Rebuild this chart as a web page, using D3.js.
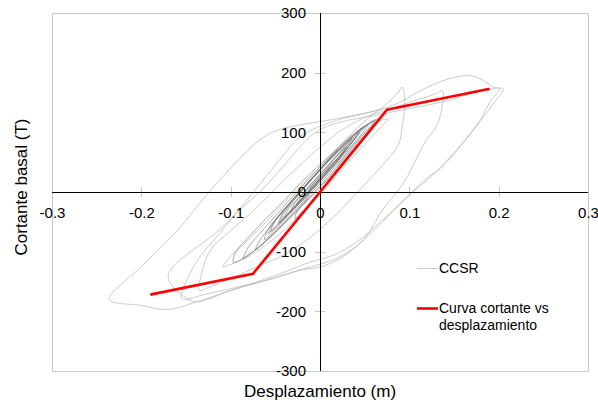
<!DOCTYPE html>
<html>
<head>
<meta charset="utf-8">
<script src="https://cdn.jsdelivr.net/npm/d3@7"></script>
<style>
  body { margin: 0; background: #fff; }
  svg { display: block; font-family: "Liberation Sans", Arial, sans-serif; }
</style>
</head>
<body>
<svg width="598" height="402"></svg>
<script>
// axis ticks
var xTicks = [-0.3, -0.2, -0.1, 0, 0.1, 0.2, 0.3];
var yTicks = [-300, -200, -100, 0, 100, 200, 300];

// red bilinear curve (displacement m, shear T)
var curveDisp = [-0.19, -0.075, 0, 0.075, 0.19];
var curveShear = [-172, -137, 0, 138, 173];

// CCSR hysteresis, read cycle by cycle off the picture
var smallCycles = [
  [[0,0],[0.012,22],[0.024,42],[0.028,50],[0.02,35],[0.005,8],[-0.01,-18],[-0.022,-36],[-0.028,-45],[-0.025,-30],[-0.015,-12],[-0.01,10]],
  [[-0.01,10],[0.01,42],[0.025,65],[0.028,70],[0.02,52],[0,18],[-0.02,-15],[-0.03,-30],[-0.033,-34],[-0.028,-18],[-0.015,5],[0,30]],
  [[0,30],[0.02,62],[0.035,85],[0.04,92],[0.032,75],[0.012,40],[-0.01,4],[-0.03,-28],[-0.042,-48],[-0.045,-52],[-0.04,-35],[-0.026,-8],[-0.01,20],[0.005,45]],
  [[0.005,45],[0.025,75],[0.04,98],[0.046,106],[0.038,88],[0.018,52],[-0.005,14],[-0.028,-24],[-0.048,-56],[-0.055,-66],[-0.05,-48],[-0.035,-20],[-0.015,14],[0.005,46]],
  [[0.005,46],[0.03,84],[0.048,108],[0.054,114],[0.046,96],[0.025,60],[0,18],[-0.025,-22],[-0.05,-62],[-0.062,-80],[-0.058,-62],[-0.042,-32],[-0.02,4],[0,38]],
  [[0,38],[0.025,78],[0.045,104],[0.058,118],[0.06,119],[0.052,102],[0.03,65],[0.005,22],[-0.02,-18],[-0.045,-58],[-0.065,-88],[-0.072,-96],[-0.066,-78],[-0.05,-48],[-0.03,-14],[-0.01,20],[0.01,54]],
  [[0.01,54],[0.03,84],[0.05,110],[0.062,121],[0.056,106],[0.035,70],[0.01,26],[-0.015,-14],[-0.04,-52],[-0.065,-88],[-0.082,-108],[-0.086,-112],[-0.08,-92],[-0.064,-64],[-0.045,-32],[-0.026,0],[-0.005,34],[0.015,64]],
  [[0.015,64],[0.035,92],[0.055,114],[0.066,123],[0.06,110],[0.04,76],[0.015,32],[-0.01,-8],[-0.035,-46],[-0.06,-82],[-0.085,-110],[-0.097,-118],[-0.094,-100],[-0.08,-76],[-0.06,-44],[-0.04,-14],[-0.02,18],[0,46],[0.02,74]],
  [[0.02,74],[0.038,98],[0.05,110],[0.042,94],[0.02,56],[-0.005,14],[-0.03,-26],[-0.05,-58],[-0.058,-70],[-0.052,-52],[-0.038,-26],[-0.02,4],[0,36],[0.015,60]],
  [[0.015,60],[0.03,82],[0.036,90],[0.028,72],[0.008,36],[-0.015,-4],[-0.035,-36],[-0.04,-44],[-0.035,-28],[-0.02,-4],[0,30],[0.012,50]],
  [[0.012,50],[0.025,70],[0.03,76],[0.022,60],[0,24],[-0.02,-10],[-0.026,-20],[-0.02,-6],[-0.005,18],[0.01,44]],
  [[0.01,44],[0.03,80],[0.044,100],[0.036,84],[0.016,46],[-0.008,6],[-0.03,-28],[-0.046,-52],[-0.042,-36],[-0.03,-12],[-0.012,18],[0.02,72]]
];

var largeCycles = [
  [[0.02,45],[0.045,92],[0.065,118],[0.076,122],[0.07,112],[0.05,80],[0.025,38],[0,-5],[-0.03,-50],[-0.06,-88],[-0.085,-112],[-0.105,-124],[-0.109,-126],[-0.1,-108],[-0.08,-80],[-0.055,-42],[-0.03,-2],[0,42]],
  [[0,42],[0.03,90],[0.055,125],[0.075,148],[0.088,168],[0.092,176],[0.095,150],[0.092,110],[0.088,80],[0.07,45],[0.045,5],[0.02,-35],[-0.01,-75],[-0.04,-105],[-0.07,-125],[-0.1,-145],[-0.125,-160],[-0.135,-165],[-0.133,-140],[-0.123,-98],[-0.1,-65],[-0.07,-25],[-0.04,20],[-0.01,62],[0.02,100]],
  [[0.02,100],[0.05,125],[0.08,140],[0.11,155],[0.13,165],[0.137,170],[0.136,137],[0.13,109],[0.119,87],[0.093,14],[0.07,-30],[0.048,-81],[0.02,-110],[-0.02,-130],[-0.06,-148],[-0.1,-162],[-0.13,-172],[-0.15,-180],[-0.155,-178],[-0.15,-150],[-0.135,-110],[-0.11,-65],[-0.082,-14],[-0.05,45],[-0.023,92],[0,110],[0.03,125]],
  [[0.03,125],[0.06,135],[0.089,150],[0.11,168],[0.13,182],[0.15,192],[0.168,195],[0.179,190],[0.194,176],[0.201,173],[0.19,150],[0.179,120],[0.156,75],[0.135,40],[0.117,20],[0.09,-20],[0.06,-65],[0.04,-92],[0.025,-109],[0,-126],[-0.023,-131],[-0.06,-148],[-0.1,-165],[-0.138,-184],[-0.154,-173],[-0.17,-140],[-0.113,-64],[-0.09,-30],[-0.064,5],[-0.04,45],[-0.019,81],[0,105],[0.03,120]],
  [[0.03,120],[0.06,128],[0.1,140],[0.14,152],[0.17,165],[0.19,172],[0.205,173],[0.195,150],[0.175,110],[0.15,65],[0.12,20],[0.1,-5],[0.07,-47],[0.04,-85],[0.015,-106],[-0.012,-118],[-0.05,-140],[-0.1,-165],[-0.14,-185],[-0.172,-197],[-0.2,-190],[-0.236,-180],[-0.2,-125],[-0.16,-65],[-0.127,-5],[-0.1,40],[-0.075,78],[-0.06,95],[-0.045,105],[-0.02,113],[0,118],[0.03,126],[0.07,139]]
];

var svg = d3.select("svg");
var margin = {left: 52, right: 10, top: 13, bottom: 31};
var width = 598 - margin.left - margin.right,
    height = 402 - margin.top - margin.bottom;

var x = d3.scaleLinear().domain([-0.3, 0.3]).range([margin.left, margin.left + width]);
var y = d3.scaleLinear().domain([-300, 300]).range([margin.top + height, margin.top]);

// plot frame
svg.append("rect")
    .attr("x", x(-0.3) + 0.5)
    .attr("y", y(300) + 0.5)
    .attr("width", x(0.3) - x(-0.3))
    .attr("height", y(-300) - y(300))
    .attr("fill", "none")
    .attr("stroke", "#c8c8c8");

var line = d3.line()
    .x(d => x(d[0]))
    .y(d => y(d[1]))
    .curve(d3.curveCatmullRom.alpha(0.5));

var hyst = svg.append("g").attr("class", "ccsr");
hyst.selectAll("path.large")
    .data(largeCycles)
    .enter().append("path")
    .attr("class", "large")
    .attr("d", line)
    .attr("fill", "none")
    .attr("stroke", "#b4b4b4")
    .attr("stroke-width", 0.7);

hyst.selectAll("path.small")
    .data(smallCycles)
    .enter().append("path")
    .attr("class", "small")
    .attr("d", line)
    .attr("fill", "none")
    .attr("stroke", "#707070")
    .attr("stroke-width", 0.6);

// axes through the origin
var xAxis = d3.axisBottom(x).tickValues(xTicks).tickSize(0).tickPadding(15)
    .tickFormat(d => d === 0 ? "0" : d3.format(".1f")(d).replace("−", "-"));
var gx = svg.append("g").attr("transform", "translate(0," + y(0) + ")").call(xAxis);
gx.select(".domain").remove();
gx.selectAll("text").attr("font-size", 15).attr("fill", "#000")
    .attr("font-family", "Liberation Sans, Arial, sans-serif");

var yAxis = d3.axisLeft(y).tickValues(yTicks).tickSize(0).tickPadding(14)
    .tickFormat(d => String(d));
var gy = svg.append("g").attr("transform", "translate(" + x(0) + ",0)").call(yAxis);
gy.select(".domain").remove();
gy.selectAll("text").attr("font-size", 15).attr("fill", "#000")
    .attr("font-family", "Liberation Sans, Arial, sans-serif");

// light tick marks crossing the axes
svg.append("g").selectAll("line")
    .data(xTicks)
    .enter().append("line")
    .attr("x1", d => Math.round(x(d)) + 0.5).attr("x2", d => Math.round(x(d)) + 0.5)
    .attr("y1", y(0) - 5).attr("y2", y(0) + 5)
    .attr("stroke", "#c8c8c8");
svg.append("g").selectAll("line")
    .data(yTicks)
    .enter().append("line")
    .attr("y1", d => Math.round(y(d)) + 0.5).attr("y2", d => Math.round(y(d)) + 0.5)
    .attr("x1", x(0) - 5).attr("x2", x(0) + 5)
    .attr("stroke", "#c8c8c8");

svg.append("line")
    .attr("x1", x(-0.3)).attr("x2", x(0.3))
    .attr("y1", Math.round(y(0)) + 0.5).attr("y2", Math.round(y(0)) + 0.5)
    .attr("stroke", "#000");
svg.append("line")
    .attr("x1", Math.round(x(0)) + 0.5).attr("x2", Math.round(x(0)) + 0.5)
    .attr("y1", y(300)).attr("y2", y(-300))
    .attr("stroke", "#000");

// red curve
svg.append("path")
    .datum(curveDisp.map((d, i) => [d, curveShear[i]]))
    .attr("d", d3.line().x(d => x(d[0])).y(d => y(d[1])))
    .attr("fill", "none")
    .attr("stroke", "#ff0000")
    .attr("stroke-width", 2.6);

// axis titles
svg.append("text")
    .attr("x", x(0)).attr("y", 397)
    .attr("text-anchor", "middle")
    .attr("font-size", 17)
    .text("Desplazamiento (m)");
svg.append("text")
    .attr("transform", "translate(27,187) rotate(-90)")
    .attr("text-anchor", "middle")
    .attr("font-size", 17)
    .text("Cortante basal (T)");

// legend
var legend = svg.append("g").attr("font-size", 14);
legend.append("line")
    .attr("x1", 417).attr("x2", 438).attr("y1", 268.5).attr("y2", 268.5)
    .attr("stroke", "#c8c8c8").attr("stroke-width", 1);
legend.append("text").attr("x", 439).attr("y", 273).text("CCSR");
legend.append("line")
    .attr("x1", 417).attr("x2", 438).attr("y1", 308.5).attr("y2", 308.5)
    .attr("stroke", "#ff0000").attr("stroke-width", 2.6);
legend.append("text").attr("x", 439).attr("y", 313).text("Curva cortante vs");
legend.append("text").attr("x", 439).attr("y", 330).text("desplazamiento");
</script>
</body>
</html>
